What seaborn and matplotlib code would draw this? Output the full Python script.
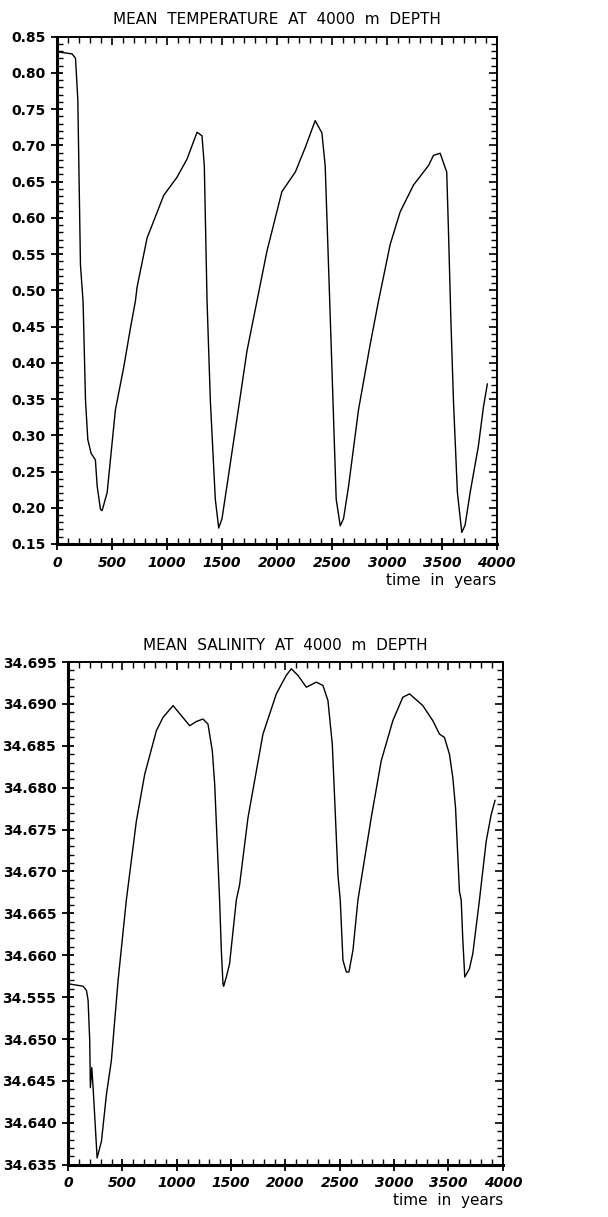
import matplotlib
matplotlib.use("Agg")
import numpy as np
import pandas as pd
import matplotlib.pyplot as plt
from matplotlib.ticker import MultipleLocator, FixedLocator, NullFormatter
import seaborn as sns

# mean temperature at 4000 m
temp_years = [0, 136, 167, 188, 212, 236, 258, 279, 309, 348, 364, 394, 409, 455, 530, 606, 667,
              712, 727, 818, 970, 1091, 1182, 1273, 1318, 1339, 1364, 1394, 1439, 1470, 1500,
              1545, 1652, 1727, 1818, 1909, 2045, 2167, 2258, 2348, 2409, 2439, 2485, 2500,
              2539, 2576, 2606, 2652, 2742, 2848, 2924, 3030, 3121, 3242, 3379, 3424, 3485,
              3545, 3561, 3582, 3606, 3642, 3682, 3712, 3758, 3833, 3879, 3915]
temp_vals = [0.829, 0.826, 0.820, 0.763, 0.535, 0.484, 0.348, 0.294, 0.275, 0.266, 0.230, 0.198,
             0.196, 0.221, 0.335, 0.394, 0.448, 0.485, 0.504, 0.572, 0.631, 0.656, 0.681, 0.718,
             0.713, 0.672, 0.485, 0.348, 0.212, 0.172, 0.185, 0.230, 0.339, 0.416, 0.485, 0.554,
             0.636, 0.663, 0.697, 0.734, 0.717, 0.672, 0.463, 0.394, 0.212, 0.175, 0.185, 0.230,
             0.335, 0.425, 0.485, 0.563, 0.608, 0.645, 0.672, 0.686, 0.689, 0.663, 0.581, 0.463,
             0.348, 0.221, 0.166, 0.176, 0.221, 0.285, 0.339, 0.371]

# mean salinity at 4000 m
sal_years = [0, 138, 169, 184, 199, 205, 218, 230, 267, 307, 353, 398, 460, 536, 628, 705, 812,
             874, 966, 1042, 1119, 1180, 1241, 1287, 1327, 1349, 1394, 1410, 1425, 1431, 1456,
             1486, 1548, 1578, 1655, 1793, 1916, 2007, 2054, 2115, 2192, 2284, 2345, 2391,
             2431, 2483, 2504, 2529, 2560, 2584, 2621, 2667, 2789, 2881, 2988, 3080, 3142,
             3264, 3356, 3417, 3463, 3509, 3540, 3565, 3601, 3617, 3632, 3650, 3693, 3724,
             3785, 3847, 3893, 3929]
sal_vals = [34.6566, 34.6563, 34.6558, 34.6546, 34.6498, 34.6442, 34.6466, 34.6442, 34.6358,
            34.6378, 34.6434, 34.6474, 34.6570, 34.6666, 34.6760, 34.6816, 34.6868, 34.6884,
            34.6898, 34.6886, 34.6874, 34.6879, 34.6882, 34.6876, 34.6844, 34.6804, 34.6666,
            34.6606, 34.6566, 34.6563, 34.6574, 34.6590, 34.6666, 34.6684, 34.6764, 34.6864,
            34.6912, 34.6934, 34.6942, 34.6934, 34.6920, 34.6926, 34.6922, 34.6904, 34.6852,
            34.6696, 34.6666, 34.6594, 34.6580, 34.6580, 34.6606, 34.6666, 34.6764, 34.6832,
            34.6880, 34.6908, 34.6912, 34.6898, 34.6880, 34.6864, 34.6860, 34.6840, 34.6812,
            34.6776, 34.6676, 34.6666, 34.6618, 34.6574, 34.6584, 34.6602, 34.6666, 34.6736,
            34.6768, 34.6785]

temp_ticks = [0.15, 0.20, 0.25, 0.30, 0.35, 0.40, 0.45, 0.50, 0.55, 0.60, 0.65, 0.70, 0.75, 0.80, 0.85]
temp_ticklabels = ["%.2f" % v for v in temp_ticks]
sal_ticks = [34.635, 34.640, 34.645, 34.650, 34.655, 34.660, 34.665, 34.670, 34.675, 34.680,
             34.685, 34.690, 34.695]
sal_ticklabels = ["34.635", "34.640", "34.645", "34.650", "34.555", "34.660", "34.665", "34.670",
                  "34.675", "34.680", "34.685", "34.690", "34.695"]
x_ticks = [0, 500, 1000, 1500, 2000, 2500, 3000, 3500, 4000]

sns.set_style("ticks")
plt.rcParams['font.family'] = ['DejaVu Sans']
for key in ["text.color", "axes.labelcolor", "xtick.color", "ytick.color", "axes.edgecolor"]:
    plt.rcParams[key] = "black"

fig = plt.figure(figsize=(6.08, 12.17), dpi=100)
ax1 = fig.add_axes([0.094, 0.553, 0.723, 0.417])
ax2 = fig.add_axes([0.112, 0.043, 0.715, 0.413])

df_t = pd.DataFrame({"year": temp_years, "val": temp_vals})
df_s = pd.DataFrame({"year": sal_years, "val": sal_vals})
sns.lineplot(data=df_t, x="year", y="val", ax=ax1, color="black", linewidth=1.0)
sns.lineplot(data=df_s, x="year", y="val", ax=ax2, color="black", linewidth=1.0)


def style(ax, yticks, ylabels, ymin, ymax, yminor, title):
    ax.set_xlim(0, 4000)
    ax.set_ylim(ymin, ymax)
    ax.xaxis.set_major_locator(FixedLocator(x_ticks))
    ax.xaxis.set_minor_locator(MultipleLocator(100))
    ax.yaxis.set_major_locator(FixedLocator(yticks))
    ax.yaxis.set_minor_locator(MultipleLocator(yminor))
    ax.set_xticklabels([str(v) for v in x_ticks], fontsize=10, fontweight="bold", style="italic")
    ax.set_yticklabels(ylabels, fontsize=10, fontweight="bold")
    ax.tick_params(which="major", direction="inout", length=9, width=1.3, pad=4)
    ax.tick_params(which="minor", direction="in", length=4, width=1.0)
    for side in ["left", "bottom"]:
        ax.spines[side].set_linewidth(2.2)
    for side in ["top", "right"]:
        ax.spines[side].set_linewidth(1.2)
    # inward ticks on the top and right frame
    top = ax.secondary_xaxis("top")
    top.xaxis.set_major_locator(FixedLocator(x_ticks))
    top.xaxis.set_minor_locator(MultipleLocator(100))
    top.xaxis.set_major_formatter(NullFormatter())
    top.tick_params(which="major", direction="in", length=6, width=1.2)
    top.tick_params(which="minor", direction="in", length=4, width=1.0)
    top.spines["top"].set_linewidth(1.2)
    right = ax.secondary_yaxis("right")
    right.yaxis.set_major_locator(FixedLocator(yticks))
    right.yaxis.set_minor_locator(MultipleLocator(yminor))
    right.yaxis.set_major_formatter(NullFormatter())
    right.tick_params(which="major", direction="in", length=6, width=1.2)
    right.tick_params(which="minor", direction="in", length=4, width=1.0)
    right.spines["right"].set_linewidth(1.2)
    ax.set_xlabel("time  in  years", loc="right", fontsize=11, labelpad=2)
    ax.set_ylabel("")
    ax.set_title(title, fontsize=11, pad=9)


style(ax1, temp_ticks, temp_ticklabels, 0.15, 0.85, 0.01, "MEAN  TEMPERATURE  AT  4000  m  DEPTH")
style(ax2, sal_ticks, sal_ticklabels, 34.635, 34.695, 0.001, "MEAN  SALINITY  AT  4000  m  DEPTH")

fig.savefig("out.png", dpi=100)
